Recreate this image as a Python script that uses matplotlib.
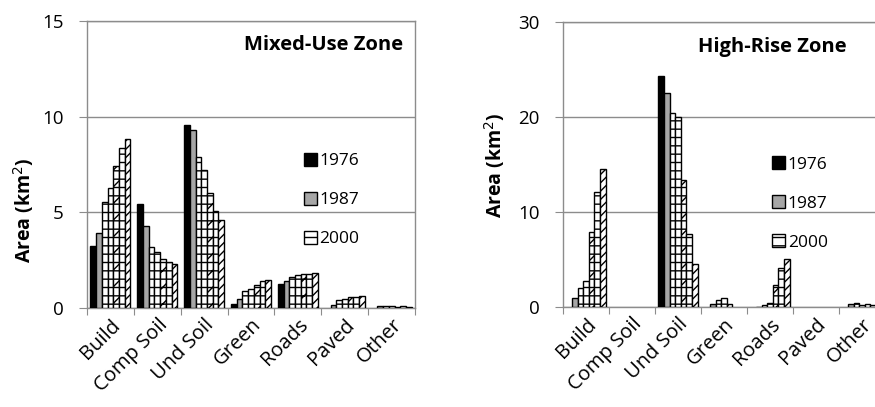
import numpy as np
import matplotlib.pyplot as plt
from matplotlib.transforms import ScaledTranslation

plt.rcParams['font.family'] = ['Open Sans', 'DejaVu Sans']
plt.rcParams['hatch.linewidth'] = 1.0

# land cover categories and legend years
categories = ['Build', 'Comp Soil', 'Und Soil', 'Green', 'Roads', 'Paved', 'Other']
legend_years = ['1976', '1987', '2000']

# area (km2) per category, one list per survey (seven surveys)
mixed_use = [
    [3.25, 5.43, 9.57, 0.23, 1.27, 0.00, 0.00],
    [3.90, 4.29, 9.29, 0.47, 1.42, 0.17, 0.08],
    [5.55, 3.18, 7.90, 0.87, 1.61, 0.42, 0.10],
    [6.25, 2.92, 7.24, 1.00, 1.74, 0.47, 0.08],
    [7.40, 2.57, 6.03, 1.20, 1.80, 0.59, 0.06],
    [8.37, 2.38, 5.09, 1.40, 1.80, 0.59, 0.08],
    [8.84, 2.29, 4.60, 1.49, 1.82, 0.63, 0.05],
]
high_rise = [
    [0.00, 0.0, 24.4, 0.00, 0.00, 0.0, 0.00],
    [1.00, 0.0, 22.56, 0.32, 0.07, 0.0, 0.35],
    [2.10, 0.0, 20.5, 0.77, 0.28, 0.0, 0.50],
    [2.74, 0.0, 20.0, 0.95, 0.49, 0.0, 0.30],
    [7.90, 0.0, 13.37, 0.35, 2.39, 0.0, 0.35],
    [12.2, 0.0, 7.72, 0.00, 4.20, 0.0, 0.30],
    [14.6, 0.0, 4.60, 0.00, 5.10, 0.0, 0.30],
]

# fill colour and hatch for each survey
fills = ['black', '#a6a6a6', 'white', 'white', 'white', 'white', 'white']
hatches = ['', '', '--', '--', '--//', '--', '////']

grid_col = '#8c8c8c'


def draw_panel(ax, series, ymax, ystep, title, title_x, leg_xy, ylabel_x, ylabel_y):
    x = np.arange(len(categories))
    w = 0.85 / len(series)
    bars = []
    for i, vals in enumerate(series):
        # zero values are not drawn at all (no outline on the axis)
        h = np.array(vals, dtype=float)
        h[h == 0] = np.nan
        b = ax.bar(x + (i - (len(series) - 1) / 2) * w, h, w,
                   color=fills[i], edgecolor='black', linewidth=1.0,
                   hatch=hatches[i], zorder=3)
        bars.append(b)

    ax.set_xlim(-0.5, len(categories) - 0.5)
    ax.set_ylim(0, ymax)
    ax.set_yticks(np.arange(0, ymax + 0.1, ystep))
    ax.yaxis.grid(True, color=grid_col, linewidth=1, zorder=0)
    ax.set_axisbelow(True)

    # category boundaries as ticks, names at the centres
    ax.set_xticks(np.arange(-0.5, len(categories)), minor=False)
    ax.set_xticklabels([])
    ax.set_xticks(x, minor=True)
    labels = ax.set_xticklabels(categories, minor=True, rotation=45, ha='right',
                                va='top', rotation_mode='anchor', fontsize=14.5)
    shift = ScaledTranslation(5 / 100, 0, fig.dpi_scale_trans)
    for lab in labels:
        lab.set_transform(lab.get_transform() + shift)
    ax.tick_params(axis='x', which='major', length=5, color=grid_col)
    ax.tick_params(axis='x', which='minor', length=0, pad=5)
    ax.tick_params(axis='y', length=6, color=grid_col, pad=11, labelsize=13.5)

    for s in ax.spines.values():
        s.set_color(grid_col)
        s.set_linewidth(1)

    ax.set_ylabel('Area (km$^2$)', fontsize=14, fontweight='bold')
    ax.yaxis.set_label_coords(ylabel_x, ylabel_y)
    ax.text(title_x, 0.915, title, transform=ax.transAxes,
            ha='right', va='center', fontsize=14.5, fontweight='bold')

    ax.legend([bars[i] for i in range(3)], legend_years, loc='upper left',
              bbox_to_anchor=leg_xy, frameon=False, fontsize=12.5,
              handlelength=0.75, handleheight=0.75, handletextpad=0.15,
              labelspacing=1.3, borderaxespad=0, borderpad=0)


fig = plt.figure(figsize=(8.75, 4.07), dpi=100)
ax1 = fig.add_axes([0.0994, 0.2432, 0.375, 0.705])
ax2 = fig.add_axes([0.6434, 0.2445, 0.368, 0.7007])

draw_panel(ax1, mixed_use, 15, 5, 'Mixed-Use Zone', 0.965, (0.66, 0.54), -0.155, 0.34)
draw_panel(ax2, high_rise, 30, 10, 'High-Rise Zone', 0.88, (0.65, 0.53), -0.175, 0.50)

fig.savefig('out.png', dpi=100)
